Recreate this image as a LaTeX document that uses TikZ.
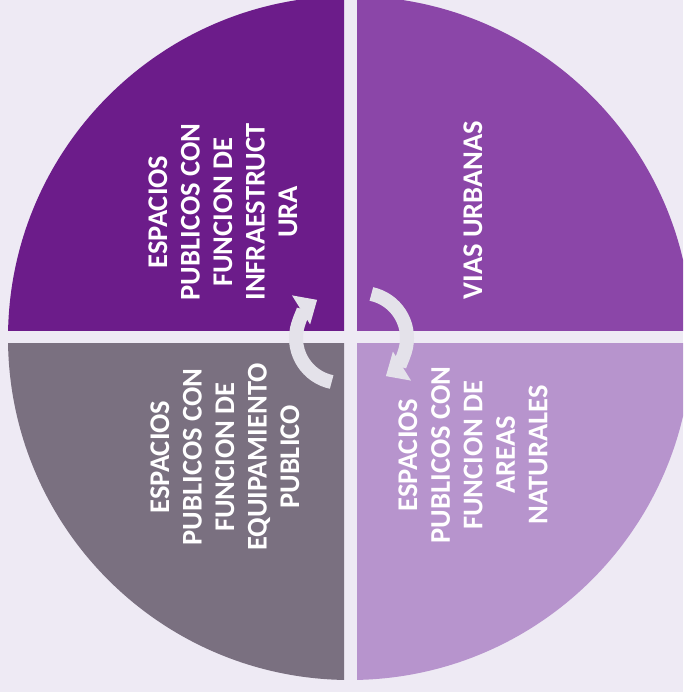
\documentclass[tikz,border=0pt]{standalone}
\usepackage{fontspec}
\setmainfont{Carlito}
\usetikzlibrary{arrows.meta}
\definecolor{bg}{HTML}{EEEAF4}
\definecolor{qtl}{HTML}{6C1C8A}
\definecolor{qtr}{HTML}{8B46A8}
\definecolor{qbl}{HTML}{7A7080}
\definecolor{qbr}{HTML}{B794CD}
\definecolor{arrowc}{HTML}{E4E2EA}
\begin{document}
\begin{tikzpicture}[x=1pt,y=1pt,
  lbl/.style={text=white,font=\bfseries\fontsize{28.5}{32.5}\selectfont,align=center,rotate=90,inner sep=0pt},
  cyc/.style={line width=14pt,draw=arrowc,-{Triangle[width=33pt,length=19pt]}}]
\clip (0,0) rectangle (683,692);
\fill[bg] (0,0) rectangle (683,692);
\begin{scope}
  \clip (0,361) rectangle (344,692);
  \fill[qtl] (350,354) circle[radius=342];
\end{scope}
\begin{scope}
  \clip (357,361) rectangle (683,692);
  \fill[qtr] (350,354) circle[radius=342];
\end{scope}
\begin{scope}
  \clip (0,0) rectangle (344,348);
  \fill[qbl] (350,354) circle[radius=342];
\end{scope}
\begin{scope}
  \clip (357,0) rectangle (683,348);
  \fill[qbr] (350,354) circle[radius=342];
\end{scope}
\node[lbl] (tl) at (223,480) {ESPACIOS\\PUBLICOS CON\\FUNCION DE\\INFRAESTRUCT\\URA};
\node[lbl] (tr) at (473,482) {VIAS URBANAS};
\node[lbl] (bl) at (225,235) {ESPACIOS\\PUBLICOS CON\\FUNCION DE\\EQUIPAMIENTO\\PUBLICO};
\node[lbl] (br) at (473,237) {ESPACIOS\\PUBLICOS CON\\FUNCION DE\\AREAS\\NATURALES};
\draw[cyc] ([shift={(258:45)}]341,354) arc[start angle=258,end angle=122,radius=45];
\draw[cyc] ([shift={(78:45)}]362,354) arc[start angle=78,end angle=-58,radius=45];
\end{tikzpicture}
\end{document}
